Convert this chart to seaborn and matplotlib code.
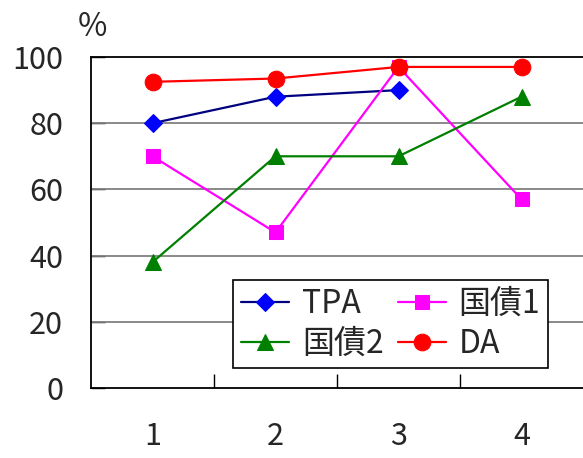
import matplotlib
matplotlib.use("Agg")
import matplotlib.pyplot as plt
import seaborn as sns
import numpy as np
import pandas as pd

categories = [1, 2, 3, 4]
tpa = [80, 88, 90, np.nan]
kokusai1 = [70, 47, 97, 57]
kokusai2 = [38, 70, 70, 88]
da = [92.5, 93.5, 97, 97]
y_ticks = [0, 20, 40, 60, 80, 100]

sns.set_theme(style="white")
plt.rcParams["font.family"] = ["Noto Sans CJK JP", "DejaVu Sans"]

fig = plt.figure(figsize=(5.83, 4.58), dpi=100)
ax = fig.add_axes([91 / 583, 1 - 388 / 458, 492 / 583, 331 / 458])

series = [
    ("TPA", tpa, "#000080", "#0000FF", "D", 9),
    ("国債1", kokusai1, "#FF00FF", "#FF00FF", "s", 10),
    ("国債2", kokusai2, "#008000", "#008000", "^", 11),
    ("DA", da, "#FF0000", "#FF0000", "o", 12),
]

for name, vals, lc, mc, mk, ms in series:
    df = pd.DataFrame({"x": categories, "y": vals}).dropna()
    sns.lineplot(data=df, x="x", y="y", ax=ax, color=lc, linewidth=1.6,
                 marker=mk, markersize=ms, markerfacecolor=mc,
                 markeredgecolor=mc, label=name, zorder=3)

ax.set_xlim(0.5, 4.5)
ax.set_ylim(0, 100)
ax.set_yticks(y_ticks)
ax.set_yticklabels([str(v) for v in y_ticks], fontsize=22)
ax.set_xticks(categories)
ax.set_xticklabels([str(c) for c in categories], fontsize=22)
ax.set_xticks([1.5, 2.5, 3.5], minor=True)
ax.tick_params(axis="x", which="major", length=0, pad=24)
ax.tick_params(axis="x", which="minor", direction="in", length=10, width=1, color="black", bottom=True)
ax.tick_params(axis="y", which="major", direction="in", length=10, width=1, color="black", pad=20, left=True)
ax.set_xlabel("")
ax.set_ylabel("")

for y in y_ticks[1:-1]:
    ax.axhline(y, color="#808080", linewidth=1.3, zorder=1)

for side in ["left", "bottom", "top"]:
    ax.spines[side].set_color("black")
    ax.spines[side].set_linewidth(1.3)
ax.spines["right"].set_visible(False)

fig.text(78 / 583, 1 - 27 / 458, "%", fontsize=23, ha="left", va="center")

handles, labels = ax.get_legend_handles_labels()
order = [0, 2, 1, 3]
leg = ax.legend([handles[i] for i in order], [labels[i] for i in order],
                ncol=2, loc="lower left", bbox_to_anchor=(0.289, 0.06),
                fontsize=23, frameon=True, fancybox=False, framealpha=1,
                edgecolor="black", borderpad=0.25, handlelength=1.5,
                handletextpad=0.4, columnspacing=0.45, labelspacing=0.25,
                borderaxespad=0)
leg.get_frame().set_linewidth(1.2)
leg.set_zorder(5)

fig.savefig("out.png", dpi=100)
